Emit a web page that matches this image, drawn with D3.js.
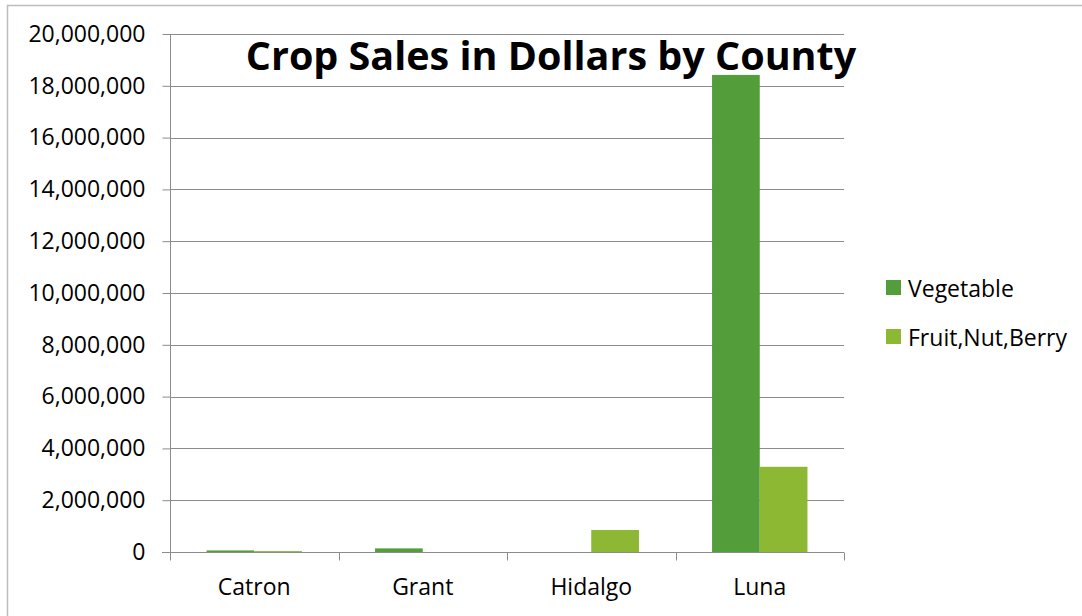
<!DOCTYPE html>
<html>
<head>
<meta charset="utf-8">
<script src="https://cdn.jsdelivr.net/npm/d3@7"></script>
<style>
  html, body { margin: 0; padding: 0; background: #fff; }
  svg { display: block; }
  text { font-family: "Open Sans", "Noto Sans", sans-serif; fill: #000; }
</style>
</head>
<body>
<svg id="chart" width="1082" height="616"></svg>
<script>
const categories = ["Catron", "Grant", "Hidalgo", "Luna"];
const seriesNames = ["Vegetable", "Fruit,Nut,Berry"];
const vegetable = [60000, 140000, 0, 18420000];
const fruitNutBerry = [35000, 0, 850000, 3290000];
const yTicks = [0, 2000000, 4000000, 6000000, 8000000, 10000000, 12000000, 14000000, 16000000, 18000000, 20000000];
const colors = ["#539E3B", "#8CB833"];
const title = "Crop Sales in Dollars by County";

const svg = d3.select("#chart");
const W = 1082, H = 616;
const margin = { left: 170, right: 1082 - 844, top: 34, bottom: 616 - 552 };

// chart border
svg.append("path")
  .attr("d", `M7.5,${H} V5.5 H${W}`)
  .attr("fill", "none").attr("stroke", "#bdbdbd").attr("stroke-width", 1.5);

const x0 = d3.scaleBand().domain(categories).range([margin.left, W - margin.right]).paddingInner(0).paddingOuter(0);
const x1 = d3.scaleBand().domain(seriesNames).range([0, x0.bandwidth()]).paddingInner(0).paddingOuter(0.766);
const y = d3.scaleLinear().domain([0, 20000000]).range([H - margin.bottom, margin.top]);

const fmt = d3.format(",");

// gridlines
svg.append("g").selectAll("line").data(yTicks.filter(d => d > 0)).join("line")
  .attr("x1", margin.left).attr("x2", W - margin.right)
  .attr("y1", d => Math.round(y(d)) + 0.5).attr("y2", d => Math.round(y(d)) + 0.5)
  .attr("stroke", "#8c8c8c").attr("stroke-width", 1);

// y axis
const yAxis = svg.append("g").attr("transform", `translate(${margin.left + 0.5},0)`)
  .call(d3.axisLeft(y).tickValues(yTicks).tickFormat(fmt).tickSize(8).tickPadding(17));
yAxis.select(".domain").attr("stroke", "#8c8c8c").attr("d", `M0,${y(0)}V${y(20000000)}`);
yAxis.selectAll(".tick line").attr("stroke", "#8c8c8c");
yAxis.selectAll(".tick text").attr("font-size", 23).attr("fill", "#000")
  .attr("font-family", "'Open Sans', sans-serif");

// bars
const data = categories.map((c, i) => ({ cat: c, vals: [vegetable[i], fruitNutBerry[i]] }));
const groups = svg.append("g").selectAll("g").data(data).join("g")
  .attr("transform", d => `translate(${x0(d.cat)},0)`);
groups.selectAll("rect").data(d => d.vals.map((v, j) => ({ name: seriesNames[j], v, j }))).join("rect")
  .attr("x", d => x1(d.name))
  .attr("width", x1.bandwidth())
  .attr("y", d => y(d.v))
  .attr("height", d => y(0) - y(d.v))
  .attr("fill", d => colors[d.j]);

// x axis
const xAxis = svg.append("g").attr("transform", `translate(0,${Math.round(y(0)) + 0.5})`)
  .call(d3.axisBottom(x0).tickSize(0).tickPadding(26));
xAxis.select(".domain").attr("stroke", "#8c8c8c").attr("d", `M${margin.left - 8},0H${W - margin.right}`);
xAxis.selectAll(".tick text").attr("font-size", 23).attr("fill", "#000")
  .attr("font-family", "'Open Sans', sans-serif");
// category boundary ticks
const bounds = categories.map(c => x0(c)).concat([x0.range()[1]]);
xAxis.append("g").selectAll("line").data(bounds).join("line")
  .attr("x1", d => Math.round(d) + 0.5).attr("x2", d => Math.round(d) + 0.5)
  .attr("y1", 0).attr("y2", 8).attr("stroke", "#8c8c8c");

// title
svg.append("text").attr("x", 551).attr("y", 70).attr("text-anchor", "middle")
  .attr("font-size", 39.5).attr("font-weight", "bold").text(title);

// legend
const legend = svg.append("g").selectAll("g").data(seriesNames).join("g")
  .attr("transform", (d, i) => `translate(886,${280 + i * 49})`);
legend.append("rect").attr("width", 15).attr("height", 15).attr("fill", (d, i) => colors[i]);
legend.append("text").attr("x", 22).attr("y", 8).attr("dominant-baseline", "central")
  .attr("font-size", 23).text(d => d);
</script>
</body>
</html>
